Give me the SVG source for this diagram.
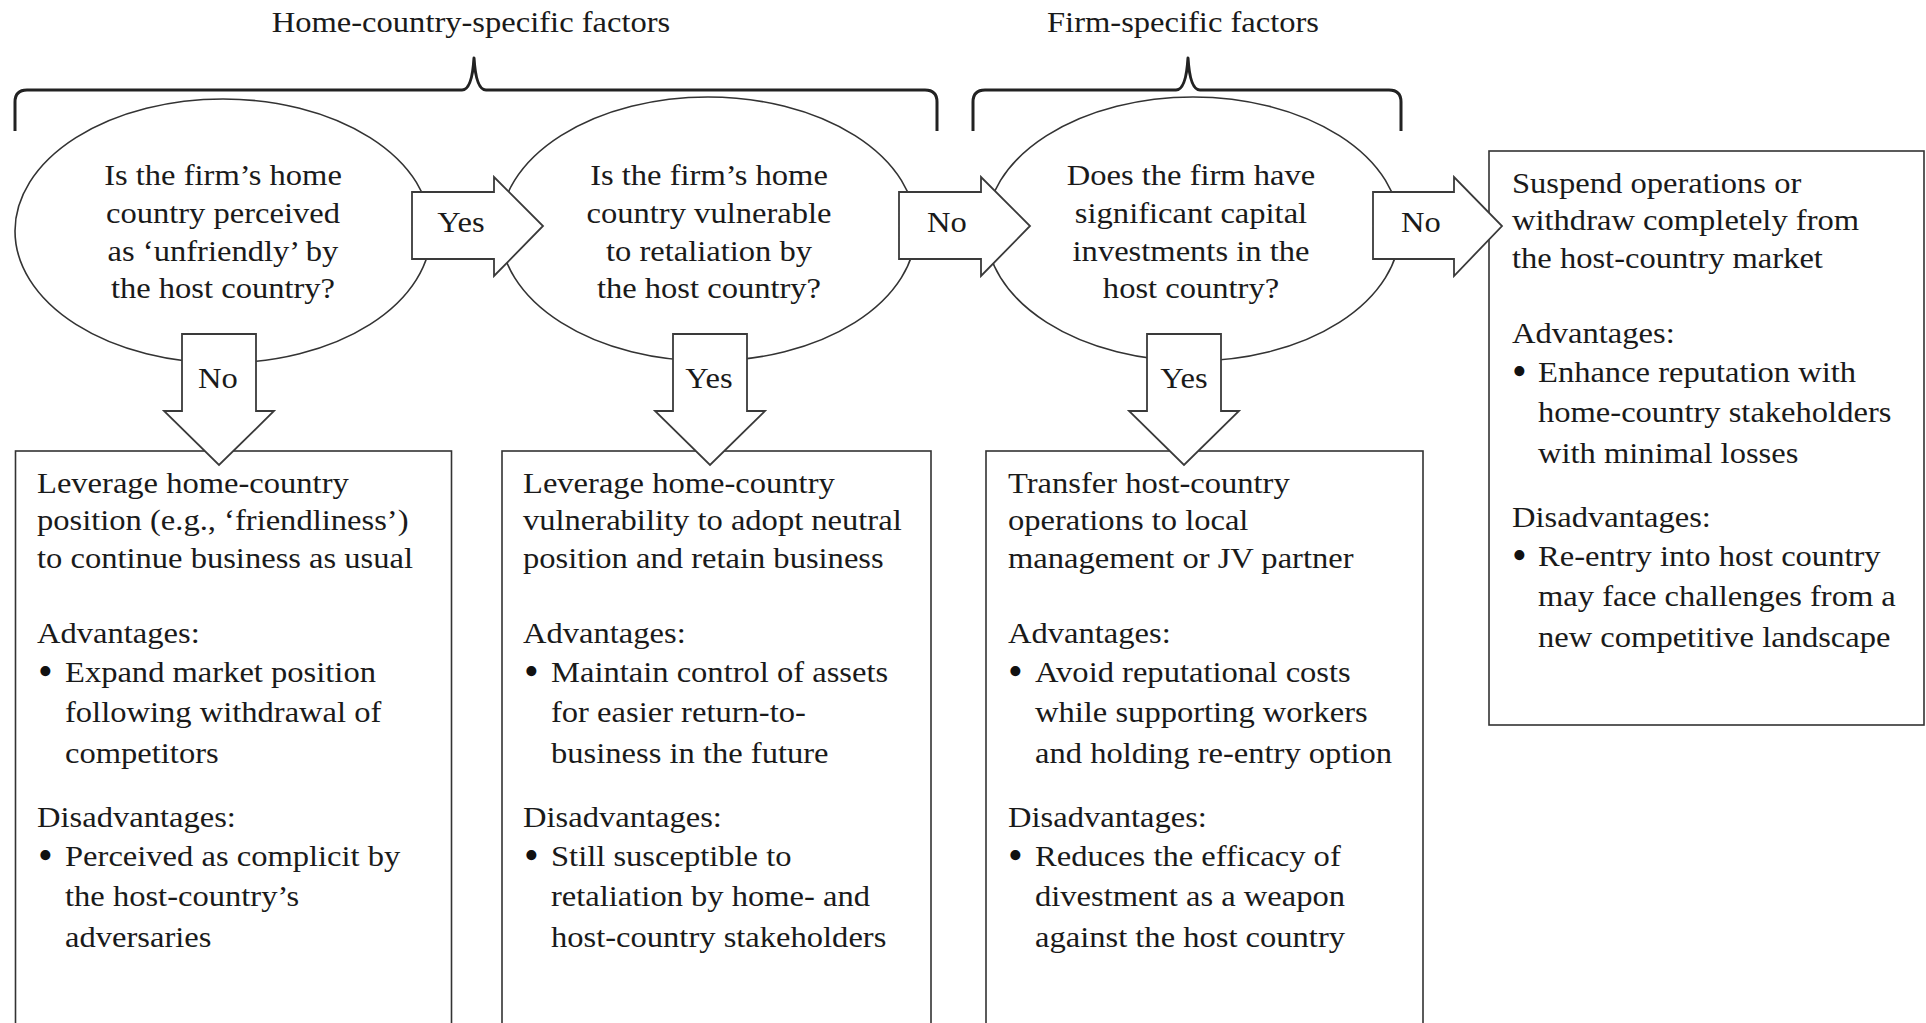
<svg xmlns="http://www.w3.org/2000/svg" width="1926" height="1023" viewBox="0 0 1926 1023">
<style>
  .t{font-family:"Liberation Serif","Times New Roman",serif;font-size:30px;fill:#1a1a1a}
  .b{font-family:"Liberation Serif","Times New Roman",serif;font-size:42px;fill:#111}
  .c{text-anchor:middle}
  .shape{fill:#fff;stroke:#333;stroke-width:1.6}
  .brace{fill:none;stroke:#222;stroke-width:3;stroke-linejoin:round}
  .arrow{fill:#fff;stroke:#3a3a3a;stroke-width:1.8;stroke-linejoin:miter}
</style>
<rect width="1926" height="1023" fill="#fff"/>

<g id="header-home">
  <path class="brace" d="M15,131 V102 Q15,90 27,90 H462 Q472,90 474,58 Q476,90 486,90 H925 Q937,90 937,102 V131"/>
  <text class="t c" transform="matrix(1.085 0 0 1 471 32)">Home-country-specific factors</text>
</g>
<g id="header-firm">
  <path class="brace" d="M973,131 V102 Q973,90 985,90 H1176 Q1186,90 1188,58 Q1190,90 1200,90 H1389 Q1401,90 1401,102 V131"/>
  <text class="t c" transform="matrix(1.085 0 0 1 1183 32)">Firm-specific factors</text>
</g>

<g id="q1">
  <ellipse class="shape" cx="223" cy="231" rx="208" ry="132"/>
  <text class="t c" transform="matrix(1.085 0 0 1 223 185)"><tspan x="0" y="0">Is the firm’s home</tspan><tspan x="0" y="38">country perceived</tspan><tspan x="0" y="76">as ‘unfriendly’ by</tspan><tspan x="0" y="113">the host country?</tspan></text>
</g>
<g id="q2">
  <ellipse class="shape" cx="708" cy="229" rx="208" ry="132"/>
  <text class="t c" transform="matrix(1.085 0 0 1 709 185)"><tspan x="0" y="0">Is the firm’s home</tspan><tspan x="0" y="38">country vulnerable</tspan><tspan x="0" y="76">to retaliation by</tspan><tspan x="0" y="113">the host country?</tspan></text>
</g>
<g id="q3">
  <ellipse class="shape" cx="1193" cy="229" rx="207" ry="132"/>
  <text class="t c" transform="matrix(1.085 0 0 1 1191 185)"><tspan x="0" y="0">Does the firm have</tspan><tspan x="0" y="38">significant capital</tspan><tspan x="0" y="76">investments in the</tspan><tspan x="0" y="113">host country?</tspan></text>
</g>

<g id="outcome-leverage-position">
  <rect class="shape" x="15.5" y="451" width="436" height="620"/>
  <text class="t" transform="matrix(1.085 0 0 1 37 493)"><tspan x="0" y="0">Leverage home-country</tspan><tspan x="0" y="37.5">position (e.g., ‘friendliness’)</tspan><tspan x="0" y="75">to continue business as usual</tspan><tspan x="0" y="150">Advantages:</tspan><tspan x="0" y="334">Disadvantages:</tspan></text>
  <text class="b" transform="translate(38 685)"><tspan x="0" y="0">•</tspan><tspan x="0" y="184">•</tspan></text>
  <text class="t" transform="matrix(1.085 0 0 1 65 682)"><tspan x="0" y="0">Expand market position</tspan><tspan x="0" y="40.5">following withdrawal of</tspan><tspan x="0" y="81">competitors</tspan><tspan x="0" y="184">Perceived as complicit by</tspan><tspan x="0" y="224.5">the host-country’s</tspan><tspan x="0" y="265">adversaries</tspan></text>
</g>

<g id="outcome-neutral">
  <rect class="shape" x="502" y="451" width="429" height="620"/>
  <text class="t" transform="matrix(1.085 0 0 1 523 493)"><tspan x="0" y="0">Leverage home-country</tspan><tspan x="0" y="37.5">vulnerability to adopt neutral</tspan><tspan x="0" y="75">position and retain business</tspan><tspan x="0" y="150">Advantages:</tspan><tspan x="0" y="334">Disadvantages:</tspan></text>
  <text class="b" transform="translate(524 685)"><tspan x="0" y="0">•</tspan><tspan x="0" y="184">•</tspan></text>
  <text class="t" transform="matrix(1.085 0 0 1 551 682)"><tspan x="0" y="0">Maintain control of assets</tspan><tspan x="0" y="40.5">for easier return-to-</tspan><tspan x="0" y="81">business in the future</tspan><tspan x="0" y="184">Still susceptible to</tspan><tspan x="0" y="224.5">retaliation by home- and</tspan><tspan x="0" y="265">host-country stakeholders</tspan></text>
</g>

<g id="outcome-transfer">
  <rect class="shape" x="986" y="451" width="437" height="620"/>
  <text class="t" transform="matrix(1.085 0 0 1 1008 493)"><tspan x="0" y="0">Transfer host-country</tspan><tspan x="0" y="37.5">operations to local</tspan><tspan x="0" y="75">management or JV partner</tspan><tspan x="0" y="150">Advantages:</tspan><tspan x="0" y="334">Disadvantages:</tspan></text>
  <text class="b" transform="translate(1008 685)"><tspan x="0" y="0">•</tspan><tspan x="0" y="184">•</tspan></text>
  <text class="t" transform="matrix(1.085 0 0 1 1035 682)"><tspan x="0" y="0">Avoid reputational costs</tspan><tspan x="0" y="40.5">while supporting workers</tspan><tspan x="0" y="81">and holding re-entry option</tspan><tspan x="0" y="184">Reduces the efficacy of</tspan><tspan x="0" y="224.5">divestment as a weapon</tspan><tspan x="0" y="265">against the host country</tspan></text>
</g>

<g id="outcome-withdraw">
  <rect class="shape" x="1489" y="151" width="435" height="574"/>
  <text class="t" transform="matrix(1.085 0 0 1 1512 193)"><tspan x="0" y="0">Suspend operations or</tspan><tspan x="0" y="37.5">withdraw completely from</tspan><tspan x="0" y="75">the host-country market</tspan><tspan x="0" y="150">Advantages:</tspan><tspan x="0" y="334">Disadvantages:</tspan></text>
  <text class="b" transform="translate(1512 385)"><tspan x="0" y="0">•</tspan><tspan x="0" y="184">•</tspan></text>
  <text class="t" transform="matrix(1.085 0 0 1 1538 382)"><tspan x="0" y="0">Enhance reputation with</tspan><tspan x="0" y="40.5">home-country stakeholders</tspan><tspan x="0" y="81">with minimal losses</tspan><tspan x="0" y="184">Re-entry into host country</tspan><tspan x="0" y="224.5">may face challenges from a</tspan><tspan x="0" y="265">new competitive landscape</tspan></text>
</g>

<g id="connectors">
  <g id="c-q1-q2">
    <polygon class="arrow" points="412,192 494,192 494,177 543,226 494,276 494,259 412,259"/>
    <text class="t c" transform="matrix(1.085 0 0 1 461 232)">Yes</text>
  </g>
  <g id="c-q2-q3">
    <polygon class="arrow" points="899,192 981,192 981,177 1030,226 981,276 981,259 899,259"/>
    <text class="t c" transform="matrix(1.085 0 0 1 947 232)">No</text>
  </g>
  <g id="c-q3-withdraw">
    <polygon class="arrow" points="1373,192 1454,192 1454,177 1502,226 1454,276 1454,259 1373,259"/>
    <text class="t c" transform="matrix(1.085 0 0 1 1421 232)">No</text>
  </g>
  <g id="c-q1-leverage">
    <polygon class="arrow" points="182,334 256,334 256,411 274,411 219,465 164,411 182,411"/>
    <text class="t c" transform="matrix(1.085 0 0 1 218 388)">No</text>
  </g>
  <g id="c-q2-neutral">
    <polygon class="arrow" points="673,334 747,334 747,411 765,411 710,465 655,411 673,411"/>
    <text class="t c" transform="matrix(1.085 0 0 1 709 388)">Yes</text>
  </g>
  <g id="c-q3-transfer">
    <polygon class="arrow" points="1147,334 1221,334 1221,411 1239,411 1184,465 1129,411 1147,411"/>
    <text class="t c" transform="matrix(1.085 0 0 1 1184 388)">Yes</text>
  </g>
</g>
</svg>
